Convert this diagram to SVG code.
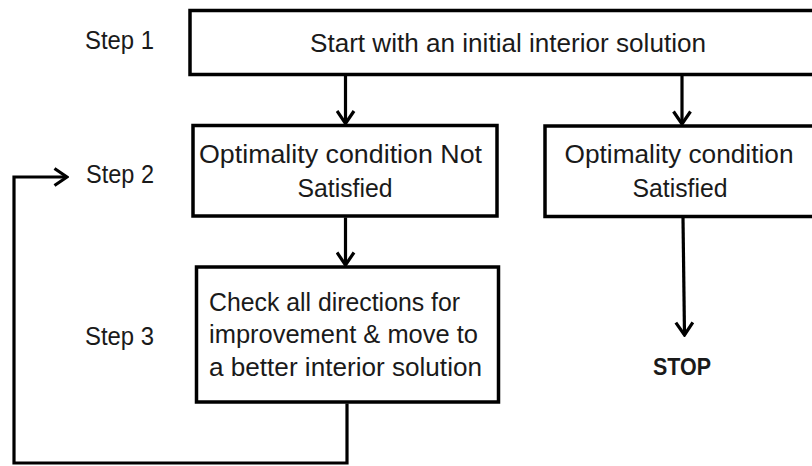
<svg xmlns="http://www.w3.org/2000/svg" width="812" height="466" viewBox="0 0 812 466">
<style>
.box{fill:#fff;stroke:#000;stroke-width:3.5}
.t{font-family:"Liberation Sans Narrow","Liberation Sans",Arial,sans-serif;font-size:25px;fill:#1a1a1a}
.c{text-anchor:middle}
.b{font-weight:bold;font-size:23px}
.con{fill:none;stroke:#000;stroke-width:3.2}
</style>
<defs>
<marker id="arr" viewBox="0 0 16 20" refX="14" refY="10" markerWidth="16" markerHeight="20" markerUnits="userSpaceOnUse" orient="auto">
<path d="M1.5,1.5 L14,10 L1.5,18.5" fill="none" stroke="#000" stroke-width="3.2"/>
</marker>
</defs>
<rect width="812" height="466" fill="#fff"/>
<g id="labels">
<text class="t" x="85" y="49" textLength="69" lengthAdjust="spacingAndGlyphs">Step 1</text>
<text class="t" x="86" y="183" textLength="68" lengthAdjust="spacingAndGlyphs">Step 2</text>
<text class="t" x="85" y="345" textLength="69" lengthAdjust="spacingAndGlyphs">Step 3</text>
</g>
<g id="start">
<rect class="box" x="190" y="10.5" width="640" height="64"/>
<text class="t" x="310" y="52" textLength="396" lengthAdjust="spacingAndGlyphs">Start with an initial interior solution</text>
</g>
<g id="notSatisfied">
<rect class="box" x="193" y="125.5" width="304" height="90.5"/>
<text class="t c" x="340.5" y="163" textLength="283" lengthAdjust="spacingAndGlyphs">Optimality condition Not</text>
<text class="t c" x="345" y="197" textLength="95" lengthAdjust="spacingAndGlyphs">Satisfied</text>
</g>
<g id="satisfied">
<rect class="box" x="545" y="126" width="290" height="90.5"/>
<text class="t c" x="679" y="163" textLength="229" lengthAdjust="spacingAndGlyphs">Optimality condition</text>
<text class="t c" x="680" y="197" textLength="95" lengthAdjust="spacingAndGlyphs">Satisfied</text>
</g>
<g id="check">
<rect class="box" x="196.5" y="267" width="302" height="135"/>
<text class="t" x="209" y="311" textLength="251" lengthAdjust="spacingAndGlyphs">Check all directions for</text>
<text class="t" x="209" y="343" textLength="269" lengthAdjust="spacingAndGlyphs">improvement &amp; move to</text>
<text class="t" x="209" y="376" textLength="273" lengthAdjust="spacingAndGlyphs">a better interior solution</text>
</g>
<g id="stop">
<text class="t b" x="653" y="375" textLength="58" lengthAdjust="spacingAndGlyphs">STOP</text>
</g>
<g id="connectors">
<path class="con" d="M345.5,76 V123.5" marker-end="url(#arr)"/>
<path class="con" d="M682,76 V124" marker-end="url(#arr)"/>
<path class="con" d="M345.5,217.5 V265" marker-end="url(#arr)"/>
<path class="con" d="M683,218 L684.5,335" marker-end="url(#arr)"/>
<path class="con" d="M347,403.5 V463 H14 V177 H67" marker-end="url(#arr)"/>
</g>
</svg>
